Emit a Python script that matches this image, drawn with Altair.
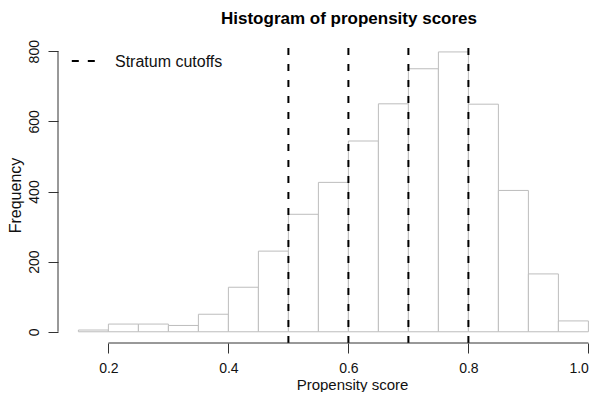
import altair as alt
import pandas as pd

# ---- data ----
bin_start = [0.15, 0.20, 0.25, 0.30, 0.35, 0.40, 0.45, 0.50, 0.55,
             0.60, 0.65, 0.70, 0.75, 0.80, 0.85, 0.90, 0.95]
bin_end = [0.20, 0.25, 0.30, 0.35, 0.40, 0.45, 0.50, 0.55, 0.60,
           0.65, 0.70, 0.75, 0.80, 0.85, 0.90, 0.95, 1.00]
counts = [5, 22, 22, 18, 50, 127, 230, 335, 426,
          544, 650, 750, 798, 649, 403, 165, 31]
cutoffs = [0.5, 0.6, 0.7, 0.8]
x_ticks = [0.2, 0.4, 0.6, 0.8, 1.0]
y_ticks = [0, 200, 400, 600, 800]
title_text = "Histogram of propensity scores"
x_title = "Propensity score"
y_title = "Frequency"
legend_label = "Stratum cutoffs"

W, H = 534, 303
FONT = "Liberation Sans"
AXIS_COLOR = "#333333"
TEXT_COLOR = "#111111"

hist = pd.DataFrame({"start": bin_start, "end": bin_end, "count": counts})
xs = alt.Scale(domain=[0.116, 1.006], nice=False, zero=False)
ys = alt.Scale(domain=[-32, 832], nice=False, zero=False)

x_axis = alt.Axis(
    values=x_ticks, format=".1f", domain=False, grid=False,
    tickSize=10, tickColor=AXIS_COLOR, tickWidth=1,
    labelFont=FONT, labelFontSize=14, labelColor=TEXT_COLOR,
    labelBaseline="alphabetic", labelPadding=19,
    labelFlush=6, labelOverlap=False,
    title=x_title, titleFont=FONT, titleFontSize=15,
    titleFontWeight="normal", titleColor=TEXT_COLOR,
    titleX=294, titleY=46, titleAlign="center",
    titleBaseline="alphabetic")
y_axis = alt.Axis(
    values=y_ticks, domain=False, grid=False,
    tickSize=10, tickColor=AXIS_COLOR, tickWidth=1,
    labelFont=FONT, labelFontSize=14, labelColor=TEXT_COLOR,
    labelAngle=270, labelAlign="center", labelBaseline="alphabetic",
    labelPadding=10, labelFlush=False, labelOverlap=False,
    title=y_title, titleFont=FONT, titleFontSize=16,
    titleFontWeight="normal", titleColor=TEXT_COLOR,
    titleAngle=270, titleX=-38, titleY=155, titleAlign="center",
    titleBaseline="alphabetic")

bars = alt.Chart(hist).transform_calculate(base="0").mark_rect(
    fill="white", stroke="#bdbdbd", strokeWidth=1
).encode(
    x=alt.X("start:Q", scale=xs, axis=x_axis),
    x2="end:Q",
    y=alt.Y("count:Q", scale=ys, axis=y_axis),
    y2="base:Q",
)

x_axis_line = alt.Chart(pd.DataFrame({"a": [x_ticks[0]], "b": [x_ticks[-1]]})).mark_rule(
    color=AXIS_COLOR, strokeWidth=1
).encode(
    x=alt.X("a:Q", scale=xs, axis=x_axis), x2="b:Q", y=alt.value(H)
)

y_axis_line = alt.Chart(pd.DataFrame({"a": [y_ticks[0]], "b": [y_ticks[-1]]})).mark_rule(
    color=AXIS_COLOR, strokeWidth=1
).encode(
    y=alt.Y("a:Q", scale=ys, axis=y_axis), y2="b:Q", x=alt.value(0)
)

cut_rules = alt.Chart(pd.DataFrame({"cut": cutoffs})).mark_rule(
    color="black", strokeWidth=2, strokeDash=[7, 9]
).encode(
    x=alt.X("cut:Q", scale=xs, axis=x_axis), y=alt.value(H), y2=alt.value(0)
)

legend_df = pd.DataFrame({"label": [legend_label]})
legend_line = alt.Chart(legend_df).mark_rule(
    color="black", strokeWidth=2, strokeDash=[7, 9]
).encode(x=alt.value(13.8), x2=alt.value(37.1), y=alt.value(20.9))
legend_text = alt.Chart(legend_df).mark_text(
    align="left", baseline="alphabetic", font=FONT, fontSize=16, color=TEXT_COLOR
).encode(text="label:N", x=alt.value(57), y=alt.value(26.9))

title_mark = alt.Chart(pd.DataFrame({"t": [title_text]})).mark_text(
    align="center", baseline="alphabetic", font=FONT, fontSize=17,
    fontWeight="bold", color="black"
).encode(text="t:N", x=alt.value(291), y=alt.value(-16))

chart = alt.layer(
    bars, cut_rules, x_axis_line, y_axis_line, legend_line, legend_text, title_mark
).properties(
    width=W, height=H,
    padding={"left": 50, "top": 32, "right": 0, "bottom": 49},
    autosize=alt.AutoSizeParams(type="none"),
    background="white",
).configure_view(stroke=None)

chart.save("out.html", embed_options={"renderer": "svg", "actions": False})
